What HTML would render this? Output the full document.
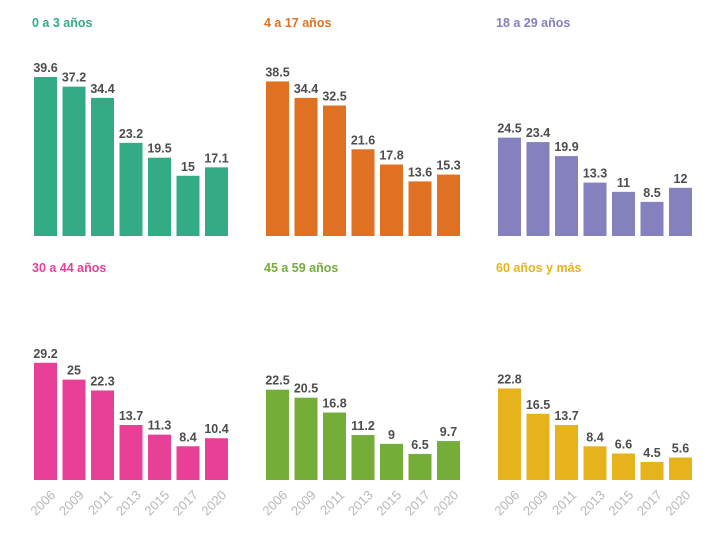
<!DOCTYPE html>
<html><head><meta charset="utf-8"><style>
body{margin:0;background:#fff;width:716px;height:535px;overflow:hidden}
svg{display:block;font-family:"Liberation Sans",sans-serif}
</style></head><body>
<svg id="c" width="716" height="535"></svg>
<script>
const years=["2006","2009","2011","2013","2015","2017","2020"];
const groups=["0 a 3 años","4 a 17 años","18 a 29 años","30 a 44 años","45 a 59 años","60 años y más"];
const colors=["#33ab87","#e07122","#8580be","#e83f97","#74ad37","#e6b31c"];
const s0=[39.6,37.2,34.4,23.2,19.5,15,17.1];
const s1=[38.5,34.4,32.5,21.6,17.8,13.6,15.3];
const s2=[24.5,23.4,19.9,13.3,11,8.5,12];
const s3=[29.2,25,22.3,13.7,11.3,8.4,10.4];
const s4=[22.5,20.5,16.8,11.2,9,6.5,9.7];
const s5=[22.8,16.5,13.7,8.4,6.6,4.5,5.6];
const series=[s0,s1,s2,s3,s4,s5];
const svg=document.getElementById('c');
const NS="http://www.w3.org/2000/svg";
function mk(t,a,p){const e=document.createElementNS(NS,t);for(const k in a)e.setAttribute(k,a[k]);p.appendChild(e);return e;}
const colX=[34,266,498],rowBase=[236,480],rowTitle=[27,272];
const step=28.5,bw=23,k=4.015;
const y=(v,b)=>b-v*k;
const x=(i,x0)=>x0+i*step;
series.forEach((vals,g)=>{
  const c=g%3,r=Math.floor(g/3),x0=colX[c],b=rowBase[r];
  const grp=mk('g',{},svg);
  
  
  const t=mk('text',{x:x0-2,y:rowTitle[r],fill:colors[g],'font-size':12.5,'font-weight':'bold'},grp);
  t.textContent=groups[g];
  
  
  vals.forEach((v,i)=>{
    const bx=x(i,x0);
    const rect=mk('rect',{x:bx,y:y(v,b),width:bw,height:v*k,fill:colors[g]},grp);
    
    
    const lb=mk('text',{x:bx+bw/2,y:y(v,b)-5,'text-anchor':'middle',fill:'#4d4d4d','font-size':12.5,'font-weight':'bold'},grp);
    lb.textContent=String(v);
    
    
    if(r===1){
      const cx=bx+bw/2+4,cy=b+9;
      const yl=mk('text',{x:cx,y:cy,'text-anchor':'end',fill:'#b8b8b8','font-size':13,transform:`rotate(-45 ${cx} ${cy})`,'dominant-baseline':'hanging'},grp);
      yl.textContent=years[i];
      
      
    }
  });
});
</script>
</body></html>
